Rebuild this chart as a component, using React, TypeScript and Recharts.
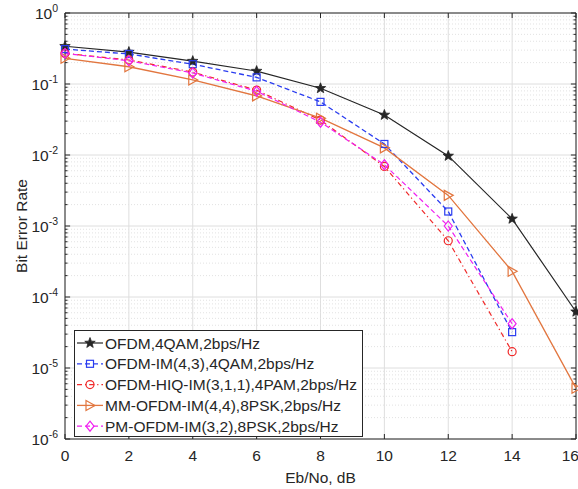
import React from "react"
import {
  LineChart,
  Line,
  XAxis,
  YAxis,
  CartesianGrid,
  ReferenceLine,
} from "recharts"

// Eb/No in dB
const snr = [0, 2, 4, 6, 8, 10, 12, 14, 16]

// BER per scheme (null = no point)
const ofdm = [0.34, 0.282, 0.21, 0.152, 0.087, 0.0366, 0.0097, 0.00126, 0.000062]
const ofdmIm = [0.31, 0.265, 0.19, 0.124, 0.056, 0.0143, 0.0016, 0.000032, null]
const hiqIm = [0.27, 0.218, 0.147, 0.082, 0.031, 0.0069, 0.00062, 0.000017, null]
const mmIm = [0.23, 0.175, 0.114, 0.068, 0.033, 0.0126, 0.0027, 0.00023, 0.0000052]
const pmIm = [0.27, 0.212, 0.143, 0.079, 0.029, 0.0073, 0.001, 0.000042, null]

const yTicks = [1e-6, 1e-5, 1e-4, 1e-3, 1e-2, 1e-1, 1]

const legendNames = [
  "OFDM,4QAM,2bps/Hz",
  "OFDM-IM(4,3),4QAM,2bps/Hz",
  "OFDM-HIQ-IM(3,1,1),4PAM,2bps/Hz",
  "MM-OFDM-IM(4,4),8PSK,2bps/Hz",
  "PM-OFDM-IM(3,2),8PSK,2bps/Hz",
]

const data = snr.map((x, i) => ({
  snr: x,
  ofdm: ofdm[i],
  ofdmIm: ofdmIm[i],
  hiqIm: hiqIm[i],
  mmIm: mmIm[i],
  pmIm: pmIm[i],
}))

// minor log grid: 2..9 x 10^k
const minorY: number[] = []
for (let e = -6; e < 0; e++) {
  for (let m = 2; m <= 9; m++) minorY.push(m * Math.pow(10, e))
}

const AXIS = "#262626"
const FONT = "'Liberation Sans', Arial, sans-serif"

const C_BLACK = "#262626"
const C_BLUE = "#2a3cf0"
const C_RED = "#f02a2a"
const C_ORANGE = "#e2763f"
const C_MAGENTA = "#f020f0"

type Mk = "star" | "square" | "circle" | "tri" | "diamond"

function marker(kind: Mk, cx: number, cy: number, color: string, key?: any) {
  if (kind === "star") {
    const pts: string[] = []
    for (let k = 0; k < 10; k++) {
      const r = k % 2 === 0 ? 5.5 : 2.3
      const a = -Math.PI / 2 + (k * Math.PI) / 5
      pts.push(`${cx + r * Math.cos(a)},${cy + r * Math.sin(a)}`)
    }
    return <polygon key={key} points={pts.join(" ")} fill={color} stroke={color} strokeWidth={0.8} />
  }
  if (kind === "square") {
    return <rect key={key} x={cx - 3.5} y={cy - 3.5} width={7} height={7} fill="none" stroke={color} strokeWidth={1.2} />
  }
  if (kind === "circle") {
    return <circle key={key} cx={cx} cy={cy} r={4} fill="none" stroke={color} strokeWidth={1.2} />
  }
  if (kind === "tri") {
    return (
      <polygon
        key={key}
        points={`${cx + 5},${cy} ${cx - 4},${cy - 5} ${cx - 4},${cy + 5}`}
        fill="none"
        stroke={color}
        strokeWidth={1.2}
      />
    )
  }
  return (
    <polygon
      key={key}
      points={`${cx},${cy - 5} ${cx + 4},${cy} ${cx},${cy + 5} ${cx - 4},${cy}`}
      fill="none"
      stroke={color}
      strokeWidth={1.2}
    />
  )
}

const dotFor = (kind: Mk, color: string) => (props: any) => {
  const { cx, cy, index, value } = props
  if (cx == null || cy == null || value == null || isNaN(cy)) return <g key={index} />
  return marker(kind, cx, cy, color, index)
}

const LogTick = (props: any) => {
  const { x, y, payload } = props
  const exp = Math.round(Math.log10(payload.value))
  return (
    <text x={x} y={y} textAnchor="end" fill={AXIS} fontFamily={FONT} fontSize={15.5}>
      <tspan dy={5.5}>10</tspan>
      <tspan dy={-7} fontSize={10.5}>{exp}</tspan>
    </text>
  )
}

const series = [
  { key: "ofdm", color: C_BLACK, dash: undefined, mk: "star" as Mk, width: 1.2 },
  { key: "ofdmIm", color: C_BLUE, dash: "5 3", mk: "square" as Mk, width: 1.3 },
  { key: "hiqIm", color: C_RED, dash: "5 3 1.2 3", mk: "circle" as Mk, width: 1.2 },
  { key: "mmIm", color: C_ORANGE, dash: undefined, mk: "tri" as Mk, width: 1.3 },
  { key: "pmIm", color: C_MAGENTA, dash: "5 3", mk: "diamond" as Mk, width: 1.2 },
]

function Legend() {
  return (
    <svg
      width={289}
      height={107}
      style={{ position: "absolute", left: 74, top: 330 }}
    >
      <rect x={0.5} y={0.5} width={288} height={106} fill="#fff" stroke={AXIS} strokeWidth={1} />
      {series.map((s, i) => {
        const cy = 13 + i * 20.8
        return (
          <g key={s.key}>
            <line x1={3} x2={29} y1={cy} y2={cy} stroke={s.color} strokeWidth={s.width} strokeDasharray={s.dash} />
            {marker(s.mk, 16, cy, s.color)}
            <text x={31} y={cy + 5.5} fontFamily={FONT} fontSize={15.5} fill={AXIS}>
              {legendNames[i]}
            </text>
          </g>
        )
      })}
    </svg>
  )
}

export default function App() {
  const tickLen = 5
  const xTickY0 = 1e-6 * Math.pow(10, tickLen / 71)
  const xTickY1 = 1 / Math.pow(10, tickLen / 71)

  return (
    <div style={{ position: "absolute", left: 0, top: 0, width: 578, height: 489, background: "#fff" }}>
      <LineChart width={578} height={489} data={data} margin={{ top: 13, right: 2, left: 20, bottom: 0 }}>
        <CartesianGrid stroke="#dedede" strokeWidth={1} />
        {minorY.map((v) => (
          <ReferenceLine key={"g" + v} y={v} stroke="#e2e2e2" strokeDasharray="1 2" />
        ))}
        {minorY.map((v) => (
          <ReferenceLine key={"l" + v} segment={[{ x: 0, y: v }, { x: 0.08, y: v }]} stroke={AXIS} />
        ))}
        {minorY.map((v) => (
          <ReferenceLine key={"r" + v} segment={[{ x: 15.92, y: v }, { x: 16, y: v }]} stroke={AXIS} />
        ))}
        {yTicks.map((v) => (
          <ReferenceLine key={"ml" + v} segment={[{ x: 0, y: v }, { x: 0.16, y: v }]} stroke={AXIS} />
        ))}
        {yTicks.map((v) => (
          <ReferenceLine key={"mr" + v} segment={[{ x: 15.84, y: v }, { x: 16, y: v }]} stroke={AXIS} />
        ))}
        {snr.map((v) => (
          <ReferenceLine key={"xb" + v} segment={[{ x: v, y: 1e-6 }, { x: v, y: xTickY0 }]} stroke={AXIS} />
        ))}
        {snr.map((v) => (
          <ReferenceLine key={"xt" + v} segment={[{ x: v, y: xTickY1 }, { x: v, y: 1 }]} stroke={AXIS} />
        ))}
        <ReferenceLine y={1} stroke={AXIS} />
        <ReferenceLine x={16} stroke={AXIS} />
        <XAxis
          dataKey="snr"
          type="number"
          domain={[0, 16]}
          ticks={snr}
          height={50}
          tickLine={false}
          tickSize={0}
          tickMargin={11}
          axisLine={{ stroke: AXIS }}
          tick={{ fill: AXIS, fontSize: 15.5, fontFamily: FONT }}
          label={{
            value: "Eb/No, dB",
            position: "insideBottom",
            offset: 6,
            fill: AXIS,
            fontSize: 15.5,
            fontFamily: FONT,
          }}
        />
        <YAxis
          scale="log"
          domain={[1e-6, 1]}
          ticks={yTicks}
          allowDataOverflow
          width={45}
          tickLine={false}
          tickSize={0}
          tickMargin={7}
          axisLine={{ stroke: AXIS }}
          tick={<LogTick />}
          label={{
            content: (p: any) => {
              const vb = p.viewBox || { x: 20, y: 13, height: 426 }
              const x = 27
              const y = vb.y + vb.height / 2
              return (
                <text
                  x={x}
                  y={y}
                  transform={`rotate(-90 ${x} ${y})`}
                  textAnchor="middle"
                  fill={AXIS}
                  fontSize={15.5}
                  fontFamily={FONT}
                >
                  Bit Error Rate
                </text>
              )
            },
          }}
        />
        {series.map((s) => (
          <Line
            key={s.key}
            dataKey={s.key}
            stroke={s.color}
            strokeWidth={s.width}
            strokeDasharray={s.dash}
            dot={dotFor(s.mk, s.color)}
            activeDot={false}
            isAnimationActive={false}
          />
        ))}
      </LineChart>
      <Legend />
    </div>
  )
}
